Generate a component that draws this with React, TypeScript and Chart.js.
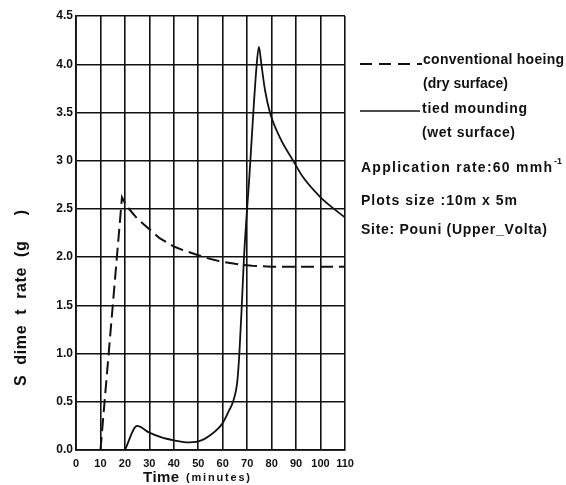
import React, { useEffect, useRef } from "react";
import { Chart, registerables } from "chart.js";

Chart.register(...registerables);

// Conventional hoeing (dry surface) – dashed
const hoeingTime = [10, 18.8, 21, 25, 30, 34, 40, 44, 50, 55, 60, 65, 72, 80, 90, 100, 110];
const hoeingRate = [0, 2.62, 2.52, 2.4, 2.29, 2.2, 2.11, 2.07, 2.02, 1.98, 1.95, 1.93, 1.91, 1.9, 1.9, 1.9, 1.9];

// Tied mounding (wet surface) – solid
const moundTime = [20, 25, 30, 35, 40, 45, 50, 55, 60, 62.6, 64.2, 66, 66.8, 67.8, 68.7, 70.8, 73.9, 74.8, 75.8, 77.3, 79.3, 83.4, 88.8, 92.8, 100, 105, 110];
const moundRate = [0, 0.25, 0.18, 0.13, 0.1, 0.08, 0.09, 0.155, 0.28, 0.41, 0.5, 0.72, 1.0, 1.5, 2.0, 2.8, 4.0, 4.18, 4.0, 3.73, 3.5, 3.24, 3.0, 2.83, 2.62, 2.51, 2.41];

const xTickLabels = ["0", "10", "20", "30", "40", "50", "60", "70", "80", "90", "100", "110"];
const yTickLabels = ["0.0", "0.5", "1.0", "1.5", "2.0", "2.5", "3 0", "3.5", "4.0", "4.5"];

const legendLabels = ["conventional hoeing", "(dry surface)", "tied mounding", "(wet surface)"];
const noteLabels = ["Application rate:60 mmh", "Plots size :10m x 5m", "Site: Pouni (Upper_Volta)"];
const xTitle = ["Time", "(minutes)"];
const yTitle = "S  dime  t  rate  (g     )";

const INK = "#111";
const FONT = "'Liberation Sans', Arial, sans-serif";

function drawSpaced(ctx: CanvasRenderingContext2D, text: string, x: number, y: number, target: number) {
  const chars = Array.from(text);
  const widths = chars.map((c) => ctx.measureText(c).width);
  const total = widths.reduce((a, b) => a + b, 0);
  const sp = chars.length > 1 ? (target - total) / (chars.length - 1) : 0;
  let cx = x;
  ctx.textAlign = "left";
  chars.forEach((c, i) => {
    ctx.fillText(c, cx, y);
    cx += widths[i] + sp;
  });
}

const annotations = {
  id: "annotations",
  afterDraw(chart: any) {
    const ctx: CanvasRenderingContext2D = chart.ctx;
    ctx.save();
    ctx.fillStyle = INK;
    ctx.strokeStyle = INK;
    ctx.textBaseline = "middle";

    // legend samples
    ctx.lineWidth = 2;
    ctx.setLineDash([12, 7]);
    ctx.beginPath();
    ctx.moveTo(360, 64);
    ctx.lineTo(422, 64);
    ctx.stroke();
    ctx.setLineDash([]);
    ctx.lineWidth = 1.5;
    ctx.beginPath();
    ctx.moveTo(360, 111);
    ctx.lineTo(420, 111);
    ctx.stroke();

    ctx.font = `bold 14px ${FONT}`;
    drawSpaced(ctx, legendLabels[0], 423, 60, 141);
    drawSpaced(ctx, legendLabels[1], 423, 84, 85);
    drawSpaced(ctx, legendLabels[2], 422, 109, 105);
    drawSpaced(ctx, legendLabels[3], 422, 133, 93);

    drawSpaced(ctx, noteLabels[0], 361, 168, 191);
    ctx.font = `bold 9px ${FONT}`;
    ctx.textAlign = "left";
    ctx.fillText("-1", 554, 162);
    ctx.font = `bold 14px ${FONT}`;
    drawSpaced(ctx, noteLabels[1], 361, 201, 156);
    drawSpaced(ctx, noteLabels[2], 361, 230, 186);

    // x title
    ctx.font = `bold 15px ${FONT}`;
    drawSpaced(ctx, xTitle[0], 143, 478, 36);
    ctx.font = `bold 11px ${FONT}`;
    drawSpaced(ctx, xTitle[1], 186, 478, 64);

    // y title
    ctx.translate(22, 298);
    ctx.rotate(-Math.PI / 2);
    ctx.font = `bold 16px ${FONT}`;
    drawSpaced(ctx, yTitle, -88, 0, 176);
    ctx.restore();
  },
};

export default function App() {
  const ref = useRef<HTMLCanvasElement | null>(null);
  useEffect(() => {
    if (!ref.current) return;
    const chart = new Chart(ref.current, {
      type: "line",
      data: {
        datasets: [
          {
            label: "conventional hoeing (dry surface)",
            data: hoeingTime.map((t, i) => ({ x: t, y: hoeingRate[i] })),
            borderColor: INK,
            borderWidth: 2,
            borderDash: [13, 6],
            pointRadius: 0,
            tension: 0,
            fill: false,
          },
          {
            label: "tied mounding (wet surface)",
            data: moundTime.map((t, i) => ({ x: t, y: moundRate[i] })),
            borderColor: INK,
            borderWidth: 1.8,
            pointRadius: 0,
            cubicInterpolationMode: "monotone",
            fill: false,
          },
        ],
      },
      options: {
        responsive: false,
        animation: false,
        layout: { padding: { left: 0, top: 16, right: 221, bottom: 0 } },
        plugins: { legend: { display: false }, tooltip: { enabled: false } },
        scales: {
          x: {
            type: "linear",
            min: 0,
            max: 110,
            afterFit: (s: any) => {
              s.height = 35;
            },
            ticks: {
              stepSize: 10,
              padding: 7,
              color: INK,
              font: { family: FONT, size: 11, weight: "bold" },
              callback: (_v: any, i: number) => xTickLabels[i],
            },
            grid: { color: INK, lineWidth: 1.6, drawTicks: false },
            border: { color: INK, width: 1.8 },
          },
          y: {
            type: "linear",
            min: 0,
            max: 4.5,
            afterFit: (s: any) => {
              s.width = 76;
            },
            ticks: {
              stepSize: 0.5,
              padding: 3,
              color: INK,
              font: { family: FONT, size: 12, weight: "bold" },
              callback: (_v: any, i: number) => yTickLabels[i],
            },
            grid: { color: INK, lineWidth: 1.4, drawTicks: false },
            border: { color: INK, width: 1.8 },
          },
        },
      },
      plugins: [annotations],
    });
    return () => chart.destroy();
  }, []);
  return (
    <div style={{ position: "absolute", left: 0, top: 0, width: 566, height: 485, background: "#fff" }}>
      <canvas ref={ref} width={566} height={485} style={{ display: "block" }} />
    </div>
  );
}
